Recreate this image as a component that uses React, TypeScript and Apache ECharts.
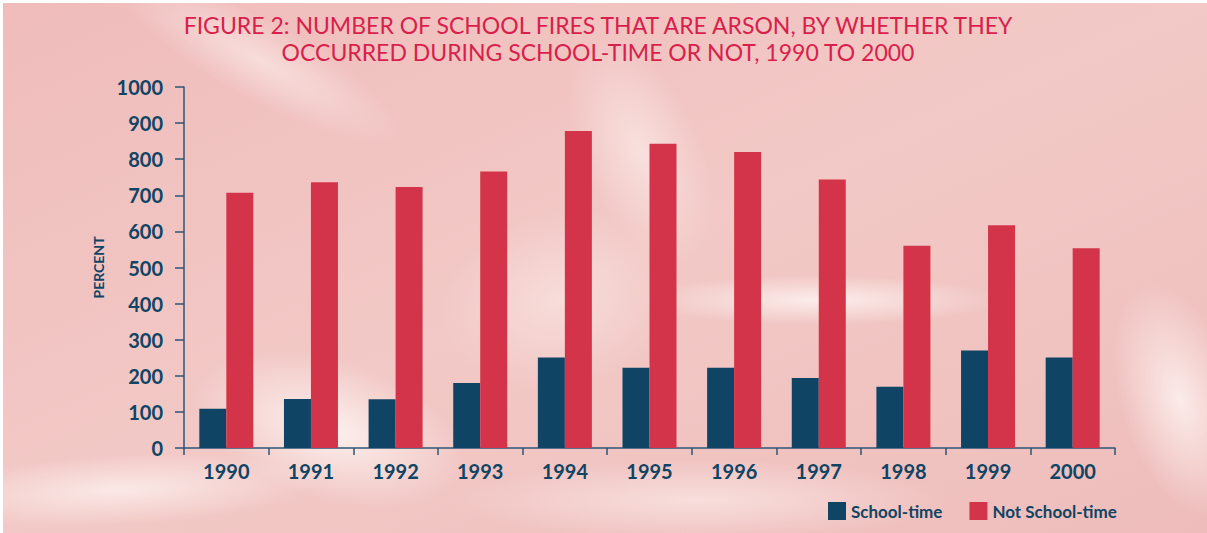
import React, { useEffect, useRef } from "react";
import * as echarts from "echarts";

const titleLines = [
  "FIGURE 2: NUMBER OF SCHOOL FIRES THAT ARE ARSON, BY WHETHER THEY",
  "OCCURRED DURING SCHOOL-TIME OR NOT, 1990 TO 2000",
];
const years = ["1990", "1991", "1992", "1993", "1994", "1995", "1996", "1997", "1998", "1999", "2000"];
const schoolTime = [109, 136, 135, 180, 251, 222, 222, 194, 170, 270, 251];
const notSchoolTime = [707, 736, 723, 766, 878, 843, 820, 744, 560, 617, 553];
const seriesNames = ["School-time", "Not School-time"];
const yAxisName = "PERCENT";

const NAVY = "#0f4464";
const RED = "#d33449";
const AXIS = "#2b5677";

function wisp(cx: number, cy: number, rx: number, ry: number, rot: number, op: number) {
  return {
    type: "ellipse",
    silent: true,
    x: cx,
    y: cy,
    rotation: rot,
    shape: { cx: 0, cy: 0, rx, ry },
    style: {
      fill: new echarts.graphic.RadialGradient(0.5, 0.5, 0.5, [
        { offset: 0, color: `rgba(255,250,248,${op})` },
        { offset: 1, color: "rgba(255,250,248,0)" },
      ]),
    },
    z: -9,
  };
}

export default function App() {
  const ref = useRef<HTMLDivElement>(null);
  useEffect(() => {
    if (!ref.current) return;
    const chart = echarts.init(ref.current, undefined, { renderer: "svg" });
    chart.setOption({
      animation: false,
      backgroundColor: "#f0c0be",
      graphic: [
        {
          type: "rect",
          silent: true,
          shape: { x: 0, y: 0, width: 1207, height: 533 },
          style: {
            fill: new echarts.graphic.LinearGradient(0, 0, 1, 1, [
              { offset: 0, color: "#efbcbb" },
              { offset: 0.5, color: "#f2c9c6" },
              { offset: 1, color: "#eebdbb" },
            ]),
          },
          z: -10,
        },
        wisp(330, 430, 140, 70, -0.3, 0.8),
        wisp(120, 490, 200, 35, 0.05, 0.65),
        wisp(260, 60, 160, 40, -0.5, 0.5),
        wisp(640, 150, 60, 120, 0.4, 0.5),
        wisp(820, 300, 180, 25, 0.0, 0.75),
        wisp(1180, 400, 60, 120, 0.3, 0.75),
        wisp(560, 300, 120, 90, 0.2, 0.4),
        wisp(700, 500, 250, 40, 0.0, 0.5),
        {
          type: "rect",
          silent: true,
          shape: { x: 0, y: 0, width: 1207, height: 3 },
          style: { fill: "#ffffff" },
          z: -8,
        },
        {
          type: "rect",
          silent: true,
          shape: { x: 0, y: 0, width: 3, height: 533 },
          style: { fill: "#ffffff" },
          z: -8,
        },
      ],
      title: {
        text: titleLines.join("\n"),
        left: 593,
        textAlign: "center",
        top: 6,
        textStyle: {
          fontFamily: "Lato",
          fontWeight: "normal",
          fontSize: 23,
          lineHeight: 27,
          color: "#d91f4b",
        },
      },
      legend: {
        left: 823,
        top: 497,
        itemWidth: 18,
        itemHeight: 18,
        itemGap: 27,
        icon: "rect",
        data: seriesNames,
        textStyle: { fontFamily: "Lato", fontWeight: "bold", fontSize: 17, color: NAVY },
      },
      grid: { left: 184, right: 92, top: 87, bottom: 85, containLabel: false },
      xAxis: {
        type: "category",
        data: years,
        boundaryGap: true,
        axisLine: { lineStyle: { color: AXIS, width: 1.5 } },
        axisTick: { show: true, length: 7, lineStyle: { color: AXIS, width: 1.5 } },
        axisLabel: { margin: 13, fontFamily: "Lato", fontWeight: "bold", fontSize: 20, color: NAVY },
        splitLine: { show: false },
      },
      yAxis: {
        type: "value",
        min: 0,
        max: 1000,
        interval: 100,
        name: yAxisName,
        nameLocation: "middle",
        nameGap: 67,
        nameRotate: 90,
        nameTextStyle: { fontFamily: "Lato", fontWeight: "bold", fontSize: 14, color: NAVY },
        axisLine: { show: true, lineStyle: { color: AXIS, width: 1.5 } },
        axisTick: { show: true, length: 9, lineStyle: { color: AXIS, width: 1.5 } },
        axisLabel: {
          margin: 21,
          fontFamily: "Lato",
          fontWeight: "bold",
          fontSize: 20,
          color: NAVY,
          formatter: (v: number) => String(v),
        },
        splitLine: { show: false },
      },
      series: [
        {
          name: seriesNames[0],
          type: "bar",
          data: schoolTime,
          barWidth: 27,
          barGap: "0%",
          itemStyle: { color: NAVY },
        },
        {
          name: seriesNames[1],
          type: "bar",
          data: notSchoolTime,
          barWidth: 27,
          barGap: "0%",
          itemStyle: { color: RED },
        },
      ],
    });
    return () => chart.dispose();
  }, []);
  return (
    <div
      ref={ref}
      style={{ position: "fixed", left: 0, top: 0, width: 1207, height: 533 }}
    />
  );
}
